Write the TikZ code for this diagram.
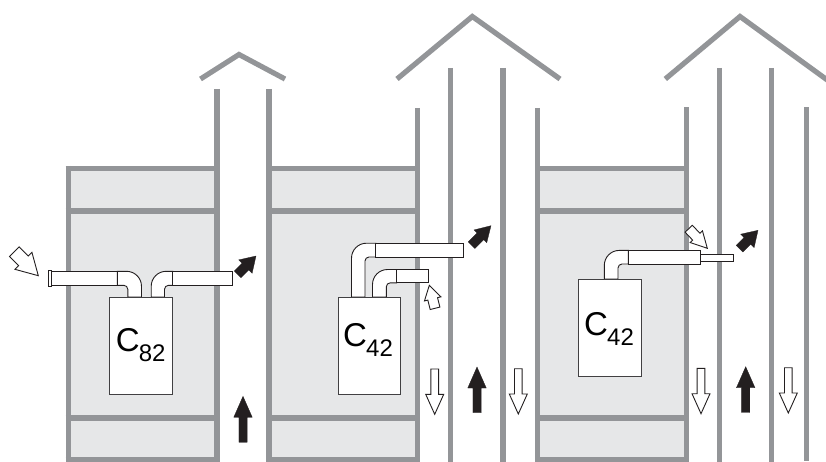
\documentclass[tikz,border=0pt]{standalone}
\usepackage{fontspec}
\setmainfont{Liberation Sans}
\definecolor{wallgrey}{HTML}{939598}
\definecolor{roomgrey}{HTML}{E6E7E8}
\definecolor{inkdark}{HTML}{231F20}
\definecolor{boxline}{HTML}{414042}
\tikzset{
  wall/.style={draw=wallgrey,line width=5.2pt,line cap=butt,line join=miter},
  room/.style={fill=roomgrey,draw=none},
  pipe/.style={draw=inkdark,fill=white,line width=0.9pt,line join=miter},
  boiler/.style={draw=boxline,fill=white,line width=0.9pt},
  flowblack/.style={fill=inkdark,draw=inkdark,line width=0.3pt,line join=miter},
  flowwhite/.style={fill=white,draw=inkdark,line width=0.9pt,line join=miter},
  boilerlabel/.style={anchor=base west,inner sep=0pt,outer sep=0pt,text=black}
}
% style, tip x, tip y, angle, length, head length, head width, shaft width
\newcommand{\flowarrow}[8]{%
  \begin{scope}[shift={(#2,#3)},rotate=#4]
    \path[#1] (0,0) -- (-#6,#7/2) -- (-#6,#8/2) -- (-#5,#8/2) -- (-#5,-#8/2)
      -- (-#6,-#8/2) -- (-#6,-#7/2) -- cycle;
  \end{scope}}
% outer x, inner x, top y, bottom y, joint x, base y, dir
\newcommand{\elbowpipe}[7]{%
  \path[pipe] (#1,#6) -- (#1,{#3+15})
    .. controls (#1,{#3+6.7}) and ({#1-#7*6.7},#3) .. ({#1-#7*15},#3)
    -- (#5,#3) -- (#5,#4) -- ({#2-#7*4},#4)
    .. controls ({#2-#7*1.8},#4) and (#2,{#4+1.8}) .. (#2,{#4+4})
    -- (#2,#6) -- cycle;}
\newcommand{\boilertext}[2]{{\fontsize{33}{34}\selectfont C}\kern#1pt\raisebox{-10.6pt}{\fontsize{24}{25}\selectfont #2}}
\begin{document}
\begin{tikzpicture}[x=1pt,y=-1pt]
\useasboundingbox (0,0) rectangle (826,462);
\clip (0,0) rectangle (826,462);
% rooms
\path[room] (68,169) rectangle (217,460);
\path[room] (269,169) rectangle (417.7,460);
\path[room] (537.7,169) rectangle (686.7,460);
% floors
\foreach \xa/\xb in {65.7/219.6,266.4/420.3,535.1/689.3}{
  \foreach \yy in {168.5,211,418,460}{
    \path[wall] (\xa,\yy) -- (\xb,\yy);
  }
}
% walls and flues
\path[wall] (68.3,166) -- (68.3,462);
\path[wall] (217,89) -- (217,462);
\path[wall] (269,89) -- (269,462);
\path[wall] (417.7,108) -- (417.7,462);
\path[wall] (450.7,68) -- (450.7,462);
\path[wall] (503,68) -- (503,462);
\path[wall] (537.7,108) -- (537.7,462);
\path[wall] (686.7,107.5) -- (686.7,462);
\path[wall] (719.7,68) -- (719.7,462);
\path[wall] (771.7,68) -- (771.7,462);
\path[wall] (806.3,107.5) -- (806.3,461);
% roofs
\path[wall] (200.5,79) -- (239,54.5) -- (285,79);
\path[wall] (397,79) -- (472.3,16.5) -- (560,79);
\path[wall] (665.3,79) -- (740,16.5) -- (830,82);
% first boiler pipes
\path[pipe] (48.7,270) rectangle (51.3,286);
\path[pipe] (51.3,271.3) rectangle (117.3,285.3);
\elbowpipe{141.5}{127.8}{271.3}{285.3}{117.3}{297}{1}
\elbowpipe{151.2}{164.5}{271.3}{285.3}{172.8}{297}{-1}
\path[pipe] (172.8,271.3) rectangle (232.5,285.3);
\node[boiler,minimum width=62.4pt,minimum height=97pt,inner sep=0pt,anchor=north west] (boilerA) at (109.2,297.2) {};
\node[boilerlabel] (labelA) at (115.8,351) {\boilertext{-0.8}{82}};
% second boiler pipes
\elbowpipe{351.5}{365}{243.2}{257}{375.8}{297}{-1}
\path[pipe] (375.8,243.2) rectangle (463.3,257);
\elbowpipe{372.5}{386.3}{269.5}{282.8}{396.7}{297}{-1}
\path[pipe] (396.7,269.5) rectangle (428.3,282.8);
\node[boiler,minimum width=62.6pt,minimum height=97pt,inner sep=0pt,anchor=north west] (boilerB) at (337.6,297.2) {};
\node[boilerlabel] (labelB) at (343.2,346) {\boilertext{-0.8}{42}};
% third boiler pipes
\path[pipe] (700.7,254) rectangle (733.7,261.4);
\elbowpipe{604.3}{618}{250.4}{264}{628.3}{279}{-1}
\path[pipe] (628.3,250.4) rectangle (700.7,264);
\node[boiler,minimum width=62.4pt,minimum height=96.6pt,inner sep=0pt,anchor=north west] (boilerC) at (578.4,279.2) {};
\node[boilerlabel] (labelC) at (584.2,335.3) {\boilertext{-0.8}{42}};
% diagonal arrows
\flowarrow{flowwhite}{38.3}{275.7}{-45}{34}{21}{24}{13.5}
\flowarrow{flowblack}{256}{256}{45}{26}{15}{19}{9.4}
\flowarrow{flowwhite}{429.3}{285.3}{104}{23.7}{14}{17}{10}
\flowarrow{flowblack}{491}{225.7}{45}{27.5}{15}{18}{9.4}
\flowarrow{flowwhite}{707.3}{248.3}{-46.5}{27}{16}{17}{10}
\flowarrow{flowblack}{758}{230.3}{45}{26}{15}{19}{9.4}
% vertical arrows
\flowarrow{flowblack}{243}{396.3}{90}{46}{21}{18.5}{8.2}
\flowarrow{flowwhite}{434.7}{414.3}{-90}{45.3}{20}{18}{7.7}
\flowarrow{flowblack}{477}{367}{90}{45.7}{21}{18.5}{8.2}
\flowarrow{flowwhite}{518.3}{414}{-90}{45.3}{20}{18}{7.7}
\flowarrow{flowwhite}{701}{413.7}{-90}{45.3}{20}{18}{7.7}
\flowarrow{flowblack}{745.7}{366.7}{90}{45.7}{21}{18.5}{8.2}
\flowarrow{flowwhite}{788.3}{413}{-90}{45.3}{20}{18}{7.7}
\end{tikzpicture}
\end{document}
